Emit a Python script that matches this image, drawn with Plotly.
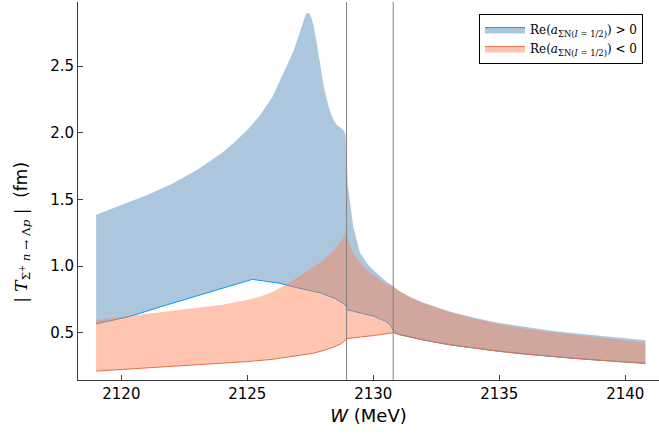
import plotly.graph_objects as go

# ---------------- data ----------------
thresholds = [2128.94, 2130.79]

# shared tail (above the second threshold) for lower edges
tail_x = [2131.0, 2131.5, 2132.0, 2133.0, 2134.0, 2135.0, 2136.0, 2137.0, 2138.0, 2139.0, 2140.0, 2140.8]
tail_low = [0.487, 0.465, 0.445, 0.41, 0.383, 0.36, 0.34, 0.322, 0.307, 0.293, 0.28, 0.27]

# Re(a) > 0 band
blue_up_x = [2119.0, 2120.0, 2121.0, 2122.0, 2123.0, 2124.0, 2124.5, 2125.0, 2125.5, 2126.0, 2126.3,
             2126.56, 2126.83, 2127.1, 2127.22, 2127.31, 2127.38, 2127.45, 2127.53, 2127.62, 2127.75,
             2127.89, 2128.02, 2128.15, 2128.28, 2128.41, 2128.55, 2128.68, 2128.81, 2128.9, 2128.94,
             2128.98, 2129.07, 2129.2, 2129.47, 2129.75, 2130.0, 2130.3, 2130.53, 2130.79,
             2131.0, 2131.5, 2132.0, 2133.0, 2134.0, 2135.0, 2136.0, 2137.0, 2138.0, 2139.0, 2140.0, 2140.8]
blue_up_y = [1.384, 1.455, 1.53, 1.615, 1.72, 1.85, 1.93, 2.02, 2.13, 2.27, 2.39,
             2.49, 2.61, 2.76, 2.84, 2.885, 2.90, 2.895, 2.87, 2.81, 2.68,
             2.51, 2.36, 2.25, 2.16, 2.10, 2.06, 2.04, 2.02, 1.99, 1.80,
             1.62, 1.49, 1.30, 1.10, 1.02, 0.97, 0.915, 0.88, 0.85,
             0.817, 0.763, 0.724, 0.66, 0.612, 0.573, 0.542, 0.516, 0.495, 0.476, 0.456, 0.443]
blue_low_x = [2119.0, 2120.3, 2121.66, 2123.6, 2125.2, 2126.3, 2126.8, 2127.9, 2128.5, 2128.68, 2128.9,
              2128.96, 2129.4, 2130.0, 2130.2, 2130.5, 2130.7, 2130.79] + tail_x
blue_low_y = [0.566, 0.62, 0.70, 0.808, 0.90, 0.87, 0.845, 0.798, 0.755, 0.733, 0.708,
              0.672, 0.65, 0.625, 0.608, 0.585, 0.55, 0.515] + tail_low

# Re(a) < 0 band
orange_up_x = [2119.0, 2120.0, 2121.0, 2122.0, 2123.0, 2124.0, 2125.0, 2125.5, 2126.0, 2126.5, 2127.0,
               2127.5, 2128.0, 2128.4, 2128.7, 2128.85, 2128.94, 2129.0, 2129.1, 2129.25, 2129.4,
               2129.7, 2130.0, 2130.4, 2130.79,
               2131.0, 2131.5, 2132.0, 2133.0, 2134.0, 2135.0, 2136.0, 2137.0, 2138.0, 2139.0, 2140.0, 2140.8]
orange_up_y = [0.595, 0.618, 0.64, 0.662, 0.685, 0.71, 0.745, 0.77, 0.805, 0.855, 0.915,
               0.975, 1.04, 1.11, 1.18, 1.225, 1.265, 1.20, 1.14, 1.08, 1.045,
               0.98, 0.93, 0.88, 0.845,
               0.815, 0.76, 0.72, 0.655, 0.605, 0.565, 0.532, 0.505, 0.483, 0.462, 0.44, 0.425]
orange_low_x = [2119.0, 2121.0, 2123.0, 2125.0, 2126.0, 2127.0, 2127.6, 2128.0, 2128.4, 2128.7, 2128.85,
                2128.94, 2129.2, 2129.5, 2130.0, 2130.5, 2130.79] + tail_x
orange_low_y = [0.212, 0.235, 0.258, 0.283, 0.30, 0.325, 0.345, 0.365, 0.39, 0.415, 0.435,
                0.455, 0.462, 0.468, 0.478, 0.49, 0.50] + tail_low

labels = ["Re(<i>a</i><sub>ΣN(<i>I</i> = 1/2)</sub>) > 0",
          "Re(<i>a</i><sub>ΣN(<i>I</i> = 1/2)</sub>) < 0"]

x_ticks = [2120, 2125, 2130, 2135, 2140]
y_ticks = [0.5, 1.0, 1.5, 2.0, 2.5]

# ---------------- figure ----------------
blue_line = "rgb(0,154,250)"
blue_fill = "rgba(70,130,180,0.45)"
orange_line = "rgb(227,111,71)"
orange_fill = "rgba(255,127,80,0.45)"

fig = go.Figure()
fig.add_trace(go.Scatter(x=blue_up_x, y=blue_up_y, mode="lines", line=dict(width=0, color=blue_fill),
                         showlegend=False, hoverinfo="skip"))
fig.add_trace(go.Scatter(x=blue_low_x, y=blue_low_y, mode="lines", line=dict(width=1, color=blue_line),
                         fill="tonexty", fillcolor=blue_fill, name=labels[0]))
fig.add_trace(go.Scatter(x=orange_up_x, y=orange_up_y, mode="lines", line=dict(width=0, color=orange_fill),
                         showlegend=False, hoverinfo="skip"))
fig.add_trace(go.Scatter(x=orange_low_x, y=orange_low_y, mode="lines", line=dict(width=1, color=orange_line),
                         fill="tonexty", fillcolor=orange_fill, name=labels[1]))

for t in thresholds:
    fig.add_shape(type="line", xref="x", yref="paper", x0=t, x1=t, y0=0, y1=1,
                  line=dict(color="rgb(128,128,128)", width=1))

axis_common = dict(showgrid=False, zeroline=False, showline=True, linecolor="rgb(60,60,60)", linewidth=1,
                   ticks="inside", ticklen=5, tickcolor="rgb(60,60,60)", mirror=False,
                   tickfont=dict(family="DejaVu Sans", size=15, color="black"))

fig.update_layout(
    width=659, height=434,
    margin=dict(l=78, r=0, t=2, b=54),
    paper_bgcolor="white", plot_bgcolor="white",
    xaxis=dict(range=[2118.28, 2141.34], tickvals=x_ticks, ticktext=[str(v) for v in x_ticks],
               title=dict(text="<i>W</i> (MeV)", font=dict(family="DejaVu Sans", size=18, color="black"),
                          standoff=7),
               **axis_common),
    yaxis=dict(range=[0.145, 2.98], tickvals=y_ticks, ticktext=[f"{v:.1f}" for v in y_ticks],
               **axis_common),
    legend=dict(x=0.9725, xanchor="right", y=0.968, yanchor="top", bgcolor="white",
                bordercolor="black", borderwidth=1, itemwidth=40, traceorder="normal",
                font=dict(family="DejaVu Serif", size=12, color="black"), tracegroupgap=0),
    showlegend=True,
)

fig.add_annotation(text="| <i>T</i><sub>Σ<sup>+</sup> <i>n</i> → Λ<i>p</i></sub> | <span style='font-family:DejaVu Sans'> (fm)</span>",
                   xref="paper", yref="paper", x=-0.096, y=0.39, xanchor="center", yanchor="middle",
                   textangle=-90, showarrow=False,
                   font=dict(family="DejaVu Serif", size=17, color="black"))

fig.write_html("out.html")
